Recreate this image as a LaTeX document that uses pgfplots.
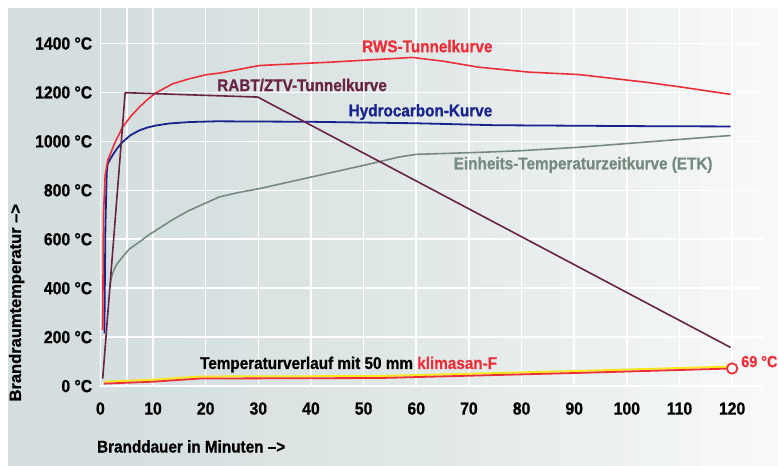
\documentclass[border=0pt]{standalone}
\usepackage{fontspec}
\setmainfont{Liberation Sans}[FakeStretch=0.9, BoldFeatures={FakeBold=0.8}]
\newfontfamily\ylabfont{Liberation Sans}[BoldFeatures={FakeBold=0.8}]
\usepackage{pgfplots}
\pgfplotsset{compat=1.18}
\definecolor{rws}{RGB}{236,48,58}
\definecolor{rabt}{RGB}{105,35,68}
\definecolor{hc}{RGB}{25,35,140}
\definecolor{etk}{RGB}{118,138,128}
\definecolor{klyel}{RGB}{250,232,30}
\definecolor{bgl}{RGB}{212,222,222}
\definecolor{bgr}{RGB}{249,249,249}
\newcommand{\lab}{\fontsize{17}{18}\selectfont\bfseries}

\begin{document}
\begin{tikzpicture}[x=1pt,y=1pt]
\fill[white] (0,0) rectangle (778,466);
% background, left to right from grey-green to near white
\foreach \i in {0,...,38} {
  \pgfmathsetmacro\q{100*(\i/38)^1.6}
  \fill[bgr!\q!bgl] ({8+\i*19.75},0) rectangle ++(20.3,458);
}
% white grid
\foreach \t in {0,5,10,20,30,40,50,60,70,80,90,100,110,120}
  \fill[white] ({99.7+5.2698*\t},79.5) rectangle ++(1.6,378.5);
\foreach \T in {0,200,400,600,800,1000,1200,1400}
  \fill[white] (99.7,{78.7+0.24498*\T}) rectangle ++(665,1.6);
\begin{axis}[
  at={(100.5pt,79.5pt)}, anchor=south west,
  scale only axis, width=664pt, height=378pt,
  xmin=0, xmax=126, ymin=0, ymax=1543,
  clip=false,
  axis line style={draw=none},
  major tick length=0pt,
  xtick={0,10,20,30,40,50,60,70,80,90,100,110,120},
  ytick={0,200,400,600,800,1000,1200,1400},
  yticklabels={0 °C,200 °C,400 °C,600 °C,800 °C,1000 °C,1200 °C,1400 °C},
  /pgf/number format/assume math mode=true,
  ticklabel style={font=\fontsize{17.5}{18}\selectfont\bfseries, inner sep=0pt},
  xticklabel style={anchor=base, yshift=-28.5pt},
  yticklabel style={anchor=east, xshift=-8pt},
]
% Einheits-Temperaturzeitkurve
\addplot[etk, line width=1.6pt, line join=round] coordinates {
  (1.8,400) (2.0,433) (2.3,460) (3.0,494) (4.2,528) (5.5,560) (7.4,589) (9,615)
  (10.6,637) (13.7,680) (16.9,718) (20,748) (22.6,773) (26,790) (30.2,807)
  (40,854) (50,902) (56.7,936) (60,947) (71.9,955) (80,962) (90.9,976)
  (103.5,997) (110,1008) (119.7,1024)
};
% Hydrocarbon-Kurve
\addplot[hc, line width=1.8pt, line join=round] coordinates {
  (0.76,215) (0.95,650) (1.2,870) (1.39,909) (2.3,943) (3.2,972) (4.2,997)
  (5.7,1025) (7.4,1045) (9,1057) (10.6,1065) (13,1073) (16.9,1079) (22,1082)
  (40,1080) (60,1074) (75,1066) (90,1064) (105,1062) (119.7,1061)
};
% RWS-Tunnelkurve
\addplot[rws, line width=1.6pt, line join=round] coordinates {
  (0.44,229) (0.57,691) (0.9,860) (1.39,922) (2.66,990) (4.2,1058) (5.8,1103)
  (7.4,1140) (9,1172) (10.6,1199) (13.7,1235) (16.9,1256) (20,1272) (22.6,1279)
  (30.2,1310) (44,1324) (52,1334) (59.2,1343) (65,1328) (71.9,1303) (81.4,1283)
  (90.9,1273) (103.5,1242) (110,1223) (119.7,1192)
};
% RABT/ZTV-Tunnelkurve
\addplot[rabt, line width=1.6pt, line join=round] coordinates {
  (0.44,31) (4.7,1199) (29.9,1181) (119.7,158)
};
% Temperaturverlauf klimasan-F
\addplot[klyel, line width=2pt] coordinates {
  (0.7,18) (10,26) (19,39) (53,41) (91,62) (120,80)
};
\addplot[rws, line width=1.8pt] coordinates {
  (0.7,10) (10,18) (19,31) (53,33) (91,54) (120,72)
};
\addplot[only marks, mark=*, mark size=5.2pt,
  mark options={fill=white, draw=rws, line width=1.8pt}] coordinates {(120,72)};

\node[rws, font=\lab] at (axis cs:62.1,1389) {RWS-Tunnelkurve};
\node[rabt, font=\lab] at (axis cs:38.3,1230) {RABT/ZTV-Tunnelkurve};
\node[hc, font=\lab] at (axis cs:60.8,1120) {Hydrocarbon-Kurve};
\node[etk, font=\lab] at (axis cs:91.7,904) {Einheits-Temperaturzeitkurve (ETK)};
\node[anchor=west, inner sep=0pt, font=\lab] at (axis cs:18.9,88)
  {Temperaturverlauf mit 50 mm \textcolor{rws}{klimasan-F}};
\node[anchor=west, inner sep=0pt, rws, font=\fontsize{16}{18}\selectfont\bfseries]
  at (axis cs:121.7,100) {69 °C};
\end{axis}
\node[anchor=base west, inner sep=0pt, font=\lab] at (97,13) {Branddauer in Minuten –>};
\node[anchor=base, inner sep=0pt, rotate=90, font=\ylabfont\fontsize{16.5}{18}\selectfont\bfseries]
  at (21,163) {Brandraumtemperatur –>};
\end{tikzpicture}
\end{document}
